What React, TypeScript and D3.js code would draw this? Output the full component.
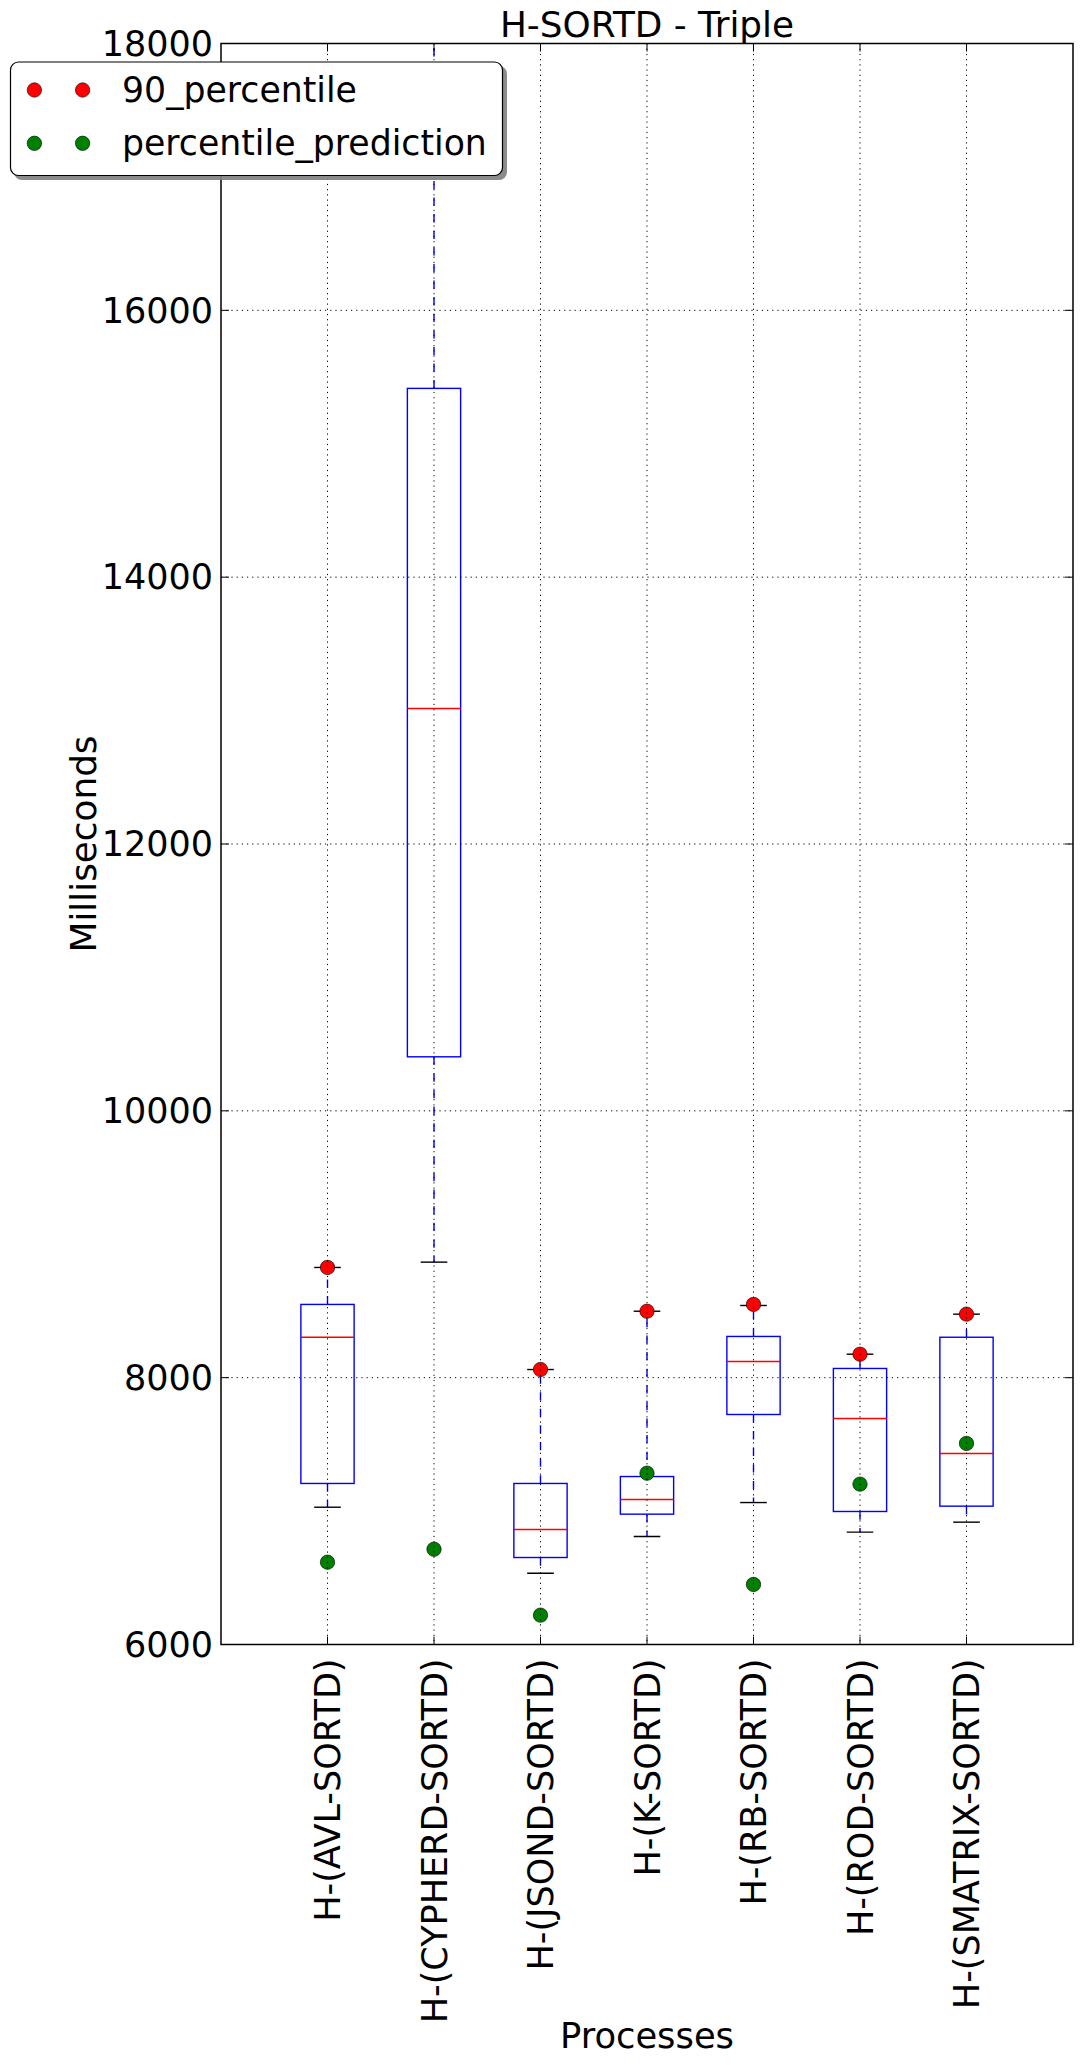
import React from "react";
import * as d3 from "d3";

const categories = [
  "H-(AVL-SORTD)",
  "H-(CYPHERD-SORTD)",
  "H-(JSOND-SORTD)",
  "H-(K-SORTD)",
  "H-(RB-SORTD)",
  "H-(ROD-SORTD)",
  "H-(SMATRIX-SORTD)",
];
const whiskerLow = [7029, 8866, 6534, 6810, 7064, 6842, 6917];
const q1 = [7207, 10405, 6652, 6977, 7724, 6997, 7037];
const median = [8303, 13016, 6862, 7087, 8121, 7694, 7432];
const q3 = [8549, 15415, 7207, 7259, 8309, 8069, 8303];
const whiskerHigh = [8826, 19000, 8061, 8498, 8541, 8176, 8476];
const p90 = [8826, 19000, 8061, 8498, 8549, 8176, 8476];
const prediction = [6617, 6714, 6220, 7284, 6450, 7202, 7507];
const yTicks = [6000, 8000, 10000, 12000, 14000, 16000, 18000];

const W = 1083;
const H = 2065;
const left = 221;
const right = 1073;
const top = 43.5;
const bottom = 1644.5;
const FONT = "'DejaVu Sans', sans-serif";
const FS = 35;
const FSL = 35.8;
const FSLEG = 34.7;

export default function App() {
  const x = d3.scaleLinear().domain([0, categories.length + 1]).range([left, right]);
  const y = d3.scaleLinear().domain([6000, 18000]).range([bottom, top]);
  const bw = x(0.5) - x(0);
  const cw = x(0.25) - x(0);
  const idx = d3.range(categories.length);

  return (
    <svg
      width={W}
      height={H}
      style={{ position: "absolute", left: 0, top: 0, display: "block", background: "#fff" }}
      fontFamily={FONT}
    >
      <defs>
        <clipPath id="plotclip">
          <rect x={left} y={top} width={right - left} height={bottom - top} />
        </clipPath>
      </defs>
      <rect x={0} y={0} width={W} height={H} fill="#fff" />
      <g clipPath="url(#plotclip)">
        {idx.map((i) => {
          const cx = x(i + 1);
          return (
            <g key={"b" + i}>
              <line x1={cx} x2={cx} y1={y(q3[i])} y2={y(whiskerHigh[i])} stroke="#0000ff" strokeWidth={1.4} strokeDasharray="8.3,8.3" />
              <line x1={cx} x2={cx} y1={y(q1[i])} y2={y(whiskerLow[i])} stroke="#0000ff" strokeWidth={1.4} strokeDasharray="8.3,8.3" />
              <line x1={cx - cw / 2} x2={cx + cw / 2} y1={y(whiskerHigh[i])} y2={y(whiskerHigh[i])} stroke="#000" strokeWidth={1.4} />
              <line x1={cx - cw / 2} x2={cx + cw / 2} y1={y(whiskerLow[i])} y2={y(whiskerLow[i])} stroke="#000" strokeWidth={1.4} />
              <rect x={cx - bw / 2} y={y(q3[i])} width={bw} height={y(q1[i]) - y(q3[i])} fill="none" stroke="#0000ff" strokeWidth={1.4} />
              <line x1={cx - bw / 2} x2={cx + bw / 2} y1={y(median[i])} y2={y(median[i])} stroke="#ff0000" strokeWidth={1.4} />
            </g>
          );
        })}
        {idx.map((i) => (
          <circle key={"r" + i} cx={x(i + 1)} cy={y(p90[i])} r={7.2} fill="#ff0000" stroke="#000" strokeWidth={0.6} />
        ))}
        {idx.map((i) => (
          <circle key={"g" + i} cx={x(i + 1)} cy={y(prediction[i])} r={7.2} fill="#008000" stroke="#000" strokeWidth={0.6} />
        ))}
        {yTicks.map((t) => (
          <line key={"gy" + t} x1={left} x2={right} y1={y(t)} y2={y(t)} stroke="#000" strokeWidth={1} strokeDasharray="1.2,4" />
        ))}
        {idx.map((i) => (
          <line key={"gx" + i} x1={x(i + 1)} x2={x(i + 1)} y1={top} y2={bottom} stroke="#000" strokeWidth={1} strokeDasharray="1.2,4" />
        ))}
      </g>
      {yTicks.map((t) => (
        <g key={"ty" + t}>
          <line x1={left} x2={left + 8} y1={y(t)} y2={y(t)} stroke="#000" strokeWidth={1} />
          <line x1={right - 8} x2={right} y1={y(t)} y2={y(t)} stroke="#000" strokeWidth={1} />
          <text x={left - 8} y={y(t)} dy="0.35em" textAnchor="end" fontSize={FS} fill="#000">
            {t}
          </text>
        </g>
      ))}
      {idx.map((i) => (
        <g key={"tx" + i}>
          <line x1={x(i + 1)} x2={x(i + 1)} y1={bottom} y2={bottom - 8} stroke="#000" strokeWidth={1} />
          <line x1={x(i + 1)} x2={x(i + 1)} y1={top} y2={top + 8} stroke="#000" strokeWidth={1} />
          <text
            transform={`translate(${x(i + 1)},${bottom + 14}) rotate(-90)`}
            textAnchor="end"
            dy="0.36em"
            fontSize={FS}
            fill="#000"
          >
            {categories[i]}
          </text>
        </g>
      ))}
      <rect x={left} y={top} width={right - left} height={bottom - top} fill="none" stroke="#000" strokeWidth={1.5} />
      <text x={(left + right) / 2} y={37} textAnchor="middle" fontSize={FSL} fill="#000">
        H-SORTD - Triple
      </text>
      <text x={(left + right) / 2} y={2048} textAnchor="middle" fontSize={35.3} fill="#000">
        Processes
      </text>
      <text transform={`translate(96,${(top + bottom) / 2}) rotate(-90)`} textAnchor="middle" fontSize={FSL} fill="#000">
        Milliseconds
      </text>
      <g>
        <rect x={14} y={66} width={493} height={114} rx={8} ry={8} fill="#808080" opacity={0.9} />
        <rect x={10.5} y={62} width={492} height={113.5} rx={8} ry={8} fill="#fff" stroke="#000" strokeWidth={1.2} />
        <circle cx={34.4} cy={90} r={7.2} fill="#ff0000" stroke="#000" strokeWidth={0.6} />
        <circle cx={82.6} cy={90} r={7.2} fill="#ff0000" stroke="#000" strokeWidth={0.6} />
        <text x={122} y={90} dy="0.35em" fontSize={FSLEG} fill="#000">
          90_percentile
        </text>
        <circle cx={34.4} cy={143.3} r={7.2} fill="#008000" stroke="#000" strokeWidth={0.6} />
        <circle cx={82.6} cy={143.3} r={7.2} fill="#008000" stroke="#000" strokeWidth={0.6} />
        <text x={122} y={143.3} dy="0.35em" fontSize={FSLEG} fill="#000">
          percentile_prediction
        </text>
      </g>
    </svg>
  );
}
